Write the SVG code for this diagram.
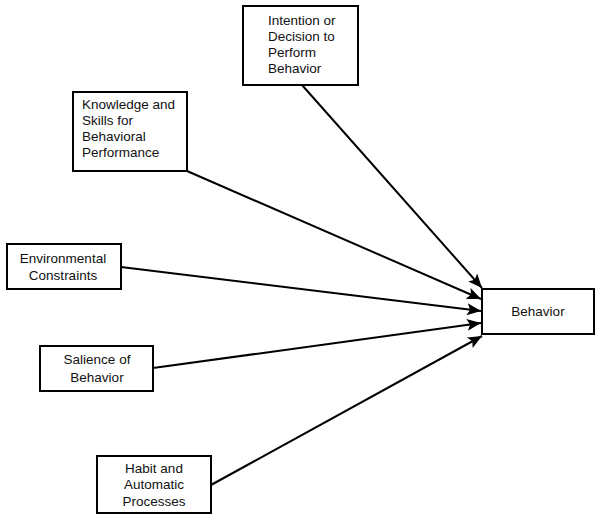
<svg xmlns="http://www.w3.org/2000/svg" width="602" height="523" viewBox="0 0 602 523">
<style>
.box{fill:#fff;stroke:#000;stroke-width:2}
.t{font-family:"Liberation Sans",Arial,sans-serif;font-size:13.5px;fill:#111}
.c{text-anchor:middle}
.e{stroke:#000;stroke-width:2;fill:none;marker-end:url(#ah)}
</style>
<defs>
<marker id="ah" markerUnits="userSpaceOnUse" markerWidth="16" markerHeight="12" refX="14" refY="6" orient="auto">
<path d="M0,0 L14,6 L0,12 L3,6 Z" fill="#000"/>
</marker>
</defs>
<rect width="602" height="523" fill="#fff"/>
<g id="connectors">
<line class="e" x1="302" y1="85" x2="482" y2="288"/>
<line class="e" x1="187" y1="171" x2="481" y2="299"/>
<line class="e" x1="121" y1="267" x2="481" y2="311"/>
<line class="e" x1="153" y1="368" x2="481" y2="323"/>
<line class="e" x1="211" y1="485" x2="482" y2="336"/>
</g>
<g id="intention">
<rect class="box" x="243" y="6" width="115" height="79"/>
<text class="t" x="268" y="25">Intention or</text>
<text class="t" x="268" y="41">Decision to</text>
<text class="t" x="268" y="57">Perform</text>
<text class="t" x="268" y="73">Behavior</text>
</g>
<g id="knowledge">
<rect class="box" x="73" y="92" width="114" height="79"/>
<text class="t" x="82" y="109">Knowledge and</text>
<text class="t" x="82" y="125">Skills for</text>
<text class="t" x="82" y="141">Behavioral</text>
<text class="t" x="82" y="157">Performance</text>
</g>
<g id="environmental">
<rect class="box" x="7" y="244" width="114" height="45"/>
<text class="t c" x="63" y="263">Environmental</text>
<text class="t c" x="63" y="280">Constraints</text>
</g>
<g id="salience">
<rect class="box" x="40" y="346" width="113" height="45"/>
<text class="t c" x="97" y="364">Salience of</text>
<text class="t c" x="97" y="382">Behavior</text>
</g>
<g id="habit">
<rect class="box" x="97" y="456" width="114" height="57"/>
<text class="t c" x="154" y="473">Habit and</text>
<text class="t c" x="154" y="489">Automatic</text>
<text class="t c" x="154" y="506">Processes</text>
</g>
<g id="behavior">
<rect class="box" x="482" y="289" width="112" height="45"/>
<text class="t c" x="538" y="316">Behavior</text>
</g>
</svg>
